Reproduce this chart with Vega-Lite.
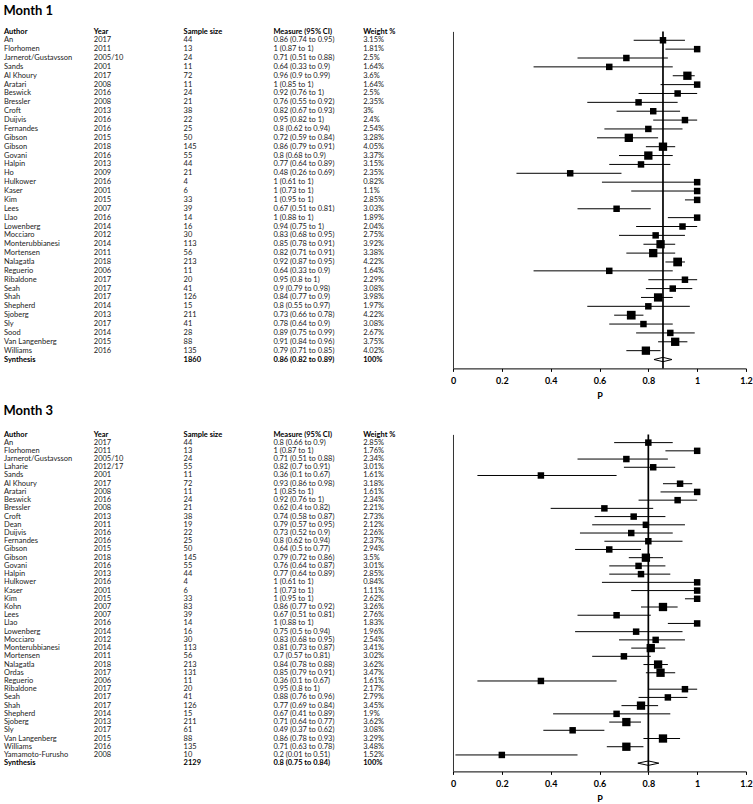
{
  "$schema": "https://vega.github.io/schema/vega-lite/v6.json",
  "background": "white",
  "padding": {"left": 3, "top": 4.4, "right": 0, "bottom": 0},
  "config": {"view": {"stroke": null}, "font": "Lato"},
  "datasets": {
    "m1": [
      {"Author": "An", "Year": "2017", "Sample size": "44", "Measure (95% CI)": "0.86 (0.74 to 0.95)", "Weight %": "3.15%", "p": 0.86, "lo": 0.74, "hi": 0.95, "w": 3.15},
      {"Author": "Florhomen", "Year": "2011", "Sample size": "13", "Measure (95% CI)": "1 (0.87 to 1)", "Weight %": "1.81%", "p": 1, "lo": 0.87, "hi": 1, "w": 1.81},
      {"Author": "Jarnerot/Gustavsson", "Year": "2005/10", "Sample size": "24", "Measure (95% CI)": "0.71 (0.51 to 0.88)", "Weight %": "2.5%", "p": 0.71, "lo": 0.51, "hi": 0.88, "w": 2.5},
      {"Author": "Sands", "Year": "2001", "Sample size": "11", "Measure (95% CI)": "0.64 (0.33 to 0.9)", "Weight %": "1.64%", "p": 0.64, "lo": 0.33, "hi": 0.9, "w": 1.64},
      {"Author": "Al Khoury", "Year": "2017", "Sample size": "72", "Measure (95% CI)": "0.96 (0.9 to 0.99)", "Weight %": "3.6%", "p": 0.96, "lo": 0.9, "hi": 0.99, "w": 3.6},
      {"Author": "Aratari", "Year": "2008", "Sample size": "11", "Measure (95% CI)": "1 (0.85 to 1)", "Weight %": "1.64%", "p": 1, "lo": 0.85, "hi": 1, "w": 1.64},
      {"Author": "Beswick", "Year": "2016", "Sample size": "24", "Measure (95% CI)": "0.92 (0.76 to 1)", "Weight %": "2.5%", "p": 0.92, "lo": 0.76, "hi": 1, "w": 2.5},
      {"Author": "Bressler", "Year": "2008", "Sample size": "21", "Measure (95% CI)": "0.76 (0.55 to 0.92)", "Weight %": "2.35%", "p": 0.76, "lo": 0.55, "hi": 0.92, "w": 2.35},
      {"Author": "Croft", "Year": "2013", "Sample size": "38", "Measure (95% CI)": "0.82 (0.67 to 0.93)", "Weight %": "3%", "p": 0.82, "lo": 0.67, "hi": 0.93, "w": 3},
      {"Author": "Duijvis", "Year": "2016", "Sample size": "22", "Measure (95% CI)": "0.95 (0.82 to 1)", "Weight %": "2.4%", "p": 0.95, "lo": 0.82, "hi": 1, "w": 2.4},
      {"Author": "Fernandes", "Year": "2016", "Sample size": "25", "Measure (95% CI)": "0.8 (0.62 to 0.94)", "Weight %": "2.54%", "p": 0.8, "lo": 0.62, "hi": 0.94, "w": 2.54},
      {"Author": "Gibson", "Year": "2015", "Sample size": "50", "Measure (95% CI)": "0.72 (0.59 to 0.84)", "Weight %": "3.28%", "p": 0.72, "lo": 0.59, "hi": 0.84, "w": 3.28},
      {"Author": "Gibson", "Year": "2018", "Sample size": "145", "Measure (95% CI)": "0.86 (0.79 to 0.91)", "Weight %": "4.05%", "p": 0.86, "lo": 0.79, "hi": 0.91, "w": 4.05},
      {"Author": "Govani", "Year": "2016", "Sample size": "55", "Measure (95% CI)": "0.8 (0.68 to 0.9)", "Weight %": "3.37%", "p": 0.8, "lo": 0.68, "hi": 0.9, "w": 3.37},
      {"Author": "Halpin", "Year": "2013", "Sample size": "44", "Measure (95% CI)": "0.77 (0.64 to 0.89)", "Weight %": "3.15%", "p": 0.77, "lo": 0.64, "hi": 0.89, "w": 3.15},
      {"Author": "Ho", "Year": "2009", "Sample size": "21", "Measure (95% CI)": "0.48 (0.26 to 0.69)", "Weight %": "2.35%", "p": 0.48, "lo": 0.26, "hi": 0.69, "w": 2.35},
      {"Author": "Hulkower", "Year": "2016", "Sample size": "4", "Measure (95% CI)": "1 (0.61 to 1)", "Weight %": "0.82%", "p": 1, "lo": 0.61, "hi": 1, "w": 0.82},
      {"Author": "Kaser", "Year": "2001", "Sample size": "6", "Measure (95% CI)": "1 (0.73 to 1)", "Weight %": "1.1%", "p": 1, "lo": 0.73, "hi": 1, "w": 1.1},
      {"Author": "Kim", "Year": "2015", "Sample size": "33", "Measure (95% CI)": "1 (0.95 to 1)", "Weight %": "2.85%", "p": 1, "lo": 0.95, "hi": 1, "w": 2.85},
      {"Author": "Lees", "Year": "2007", "Sample size": "39", "Measure (95% CI)": "0.67 (0.51 to 0.81)", "Weight %": "3.03%", "p": 0.67, "lo": 0.51, "hi": 0.81, "w": 3.03},
      {"Author": "Llao", "Year": "2016", "Sample size": "14", "Measure (95% CI)": "1 (0.88 to 1)", "Weight %": "1.89%", "p": 1, "lo": 0.88, "hi": 1, "w": 1.89},
      {"Author": "Lowenberg", "Year": "2014", "Sample size": "16", "Measure (95% CI)": "0.94 (0.75 to 1)", "Weight %": "2.04%", "p": 0.94, "lo": 0.75, "hi": 1, "w": 2.04},
      {"Author": "Mocciaro", "Year": "2012", "Sample size": "30", "Measure (95% CI)": "0.83 (0.68 to 0.95)", "Weight %": "2.75%", "p": 0.83, "lo": 0.68, "hi": 0.95, "w": 2.75},
      {"Author": "Monterubbianesi", "Year": "2014", "Sample size": "113", "Measure (95% CI)": "0.85 (0.78 to 0.91)", "Weight %": "3.92%", "p": 0.85, "lo": 0.78, "hi": 0.91, "w": 3.92},
      {"Author": "Mortensen", "Year": "2011", "Sample size": "56", "Measure (95% CI)": "0.82 (0.71 to 0.91)", "Weight %": "3.38%", "p": 0.82, "lo": 0.71, "hi": 0.91, "w": 3.38},
      {"Author": "Nalagatla", "Year": "2018", "Sample size": "213", "Measure (95% CI)": "0.92 (0.87 to 0.95)", "Weight %": "4.22%", "p": 0.92, "lo": 0.87, "hi": 0.95, "w": 4.22},
      {"Author": "Reguerio", "Year": "2006", "Sample size": "11", "Measure (95% CI)": "0.64 (0.33 to 0.9)", "Weight %": "1.64%", "p": 0.64, "lo": 0.33, "hi": 0.9, "w": 1.64},
      {"Author": "Ribaldone", "Year": "2017", "Sample size": "20", "Measure (95% CI)": "0.95 (0.8 to 1)", "Weight %": "2.29%", "p": 0.95, "lo": 0.8, "hi": 1, "w": 2.29},
      {"Author": "Seah", "Year": "2017", "Sample size": "41", "Measure (95% CI)": "0.9 (0.79 to 0.98)", "Weight %": "3.08%", "p": 0.9, "lo": 0.79, "hi": 0.98, "w": 3.08},
      {"Author": "Shah", "Year": "2017", "Sample size": "126", "Measure (95% CI)": "0.84 (0.77 to 0.9)", "Weight %": "3.98%", "p": 0.84, "lo": 0.77, "hi": 0.9, "w": 3.98},
      {"Author": "Shepherd", "Year": "2014", "Sample size": "15", "Measure (95% CI)": "0.8 (0.55 to 0.97)", "Weight %": "1.97%", "p": 0.8, "lo": 0.55, "hi": 0.97, "w": 1.97},
      {"Author": "Sjoberg", "Year": "2013", "Sample size": "211", "Measure (95% CI)": "0.73 (0.66 to 0.78)", "Weight %": "4.22%", "p": 0.73, "lo": 0.66, "hi": 0.78, "w": 4.22},
      {"Author": "Sly", "Year": "2017", "Sample size": "41", "Measure (95% CI)": "0.78 (0.64 to 0.9)", "Weight %": "3.08%", "p": 0.78, "lo": 0.64, "hi": 0.9, "w": 3.08},
      {"Author": "Sood", "Year": "2014", "Sample size": "28", "Measure (95% CI)": "0.89 (0.75 to 0.99)", "Weight %": "2.67%", "p": 0.89, "lo": 0.75, "hi": 0.99, "w": 2.67},
      {"Author": "Van Langenberg", "Year": "2015", "Sample size": "88", "Measure (95% CI)": "0.91 (0.84 to 0.96)", "Weight %": "3.75%", "p": 0.91, "lo": 0.84, "hi": 0.96, "w": 3.75},
      {"Author": "Williams", "Year": "2016", "Sample size": "135", "Measure (95% CI)": "0.79 (0.71 to 0.85)", "Weight %": "4.02%", "p": 0.79, "lo": 0.71, "hi": 0.85, "w": 4.02},
      {"Author": "Synthesis", "Year": "", "Sample size": "1860", "Measure (95% CI)": "0.86 (0.82 to 0.89)", "Weight %": "100%", "p": 0.86, "lo": 0.82, "hi": 0.89, "w": 100}
    ],
    "m3": [
      {"Author": "An", "Year": "2017", "Sample size": "44", "Measure (95% CI)": "0.8 (0.66 to 0.9)", "Weight %": "2.85%", "p": 0.8, "lo": 0.66, "hi": 0.9, "w": 2.85},
      {"Author": "Florhomen", "Year": "2011", "Sample size": "13", "Measure (95% CI)": "1 (0.87 to 1)", "Weight %": "1.76%", "p": 1, "lo": 0.87, "hi": 1, "w": 1.76},
      {"Author": "Jarnerot/Gustavsson", "Year": "2005/10", "Sample size": "24", "Measure (95% CI)": "0.71 (0.51 to 0.88)", "Weight %": "2.34%", "p": 0.71, "lo": 0.51, "hi": 0.88, "w": 2.34},
      {"Author": "Laharie", "Year": "2012/17", "Sample size": "55", "Measure (95% CI)": "0.82 (0.7 to 0.91)", "Weight %": "3.01%", "p": 0.82, "lo": 0.7, "hi": 0.91, "w": 3.01},
      {"Author": "Sands", "Year": "2001", "Sample size": "11", "Measure (95% CI)": "0.36 (0.1 to 0.67)", "Weight %": "1.61%", "p": 0.36, "lo": 0.1, "hi": 0.67, "w": 1.61},
      {"Author": "Al Khoury", "Year": "2017", "Sample size": "72", "Measure (95% CI)": "0.93 (0.86 to 0.98)", "Weight %": "3.18%", "p": 0.93, "lo": 0.86, "hi": 0.98, "w": 3.18},
      {"Author": "Aratari", "Year": "2008", "Sample size": "11", "Measure (95% CI)": "1 (0.85 to 1)", "Weight %": "1.61%", "p": 1, "lo": 0.85, "hi": 1, "w": 1.61},
      {"Author": "Beswick", "Year": "2016", "Sample size": "24", "Measure (95% CI)": "0.92 (0.76 to 1)", "Weight %": "2.34%", "p": 0.92, "lo": 0.76, "hi": 1, "w": 2.34},
      {"Author": "Bressler", "Year": "2008", "Sample size": "21", "Measure (95% CI)": "0.62 (0.4 to 0.82)", "Weight %": "2.21%", "p": 0.62, "lo": 0.4, "hi": 0.82, "w": 2.21},
      {"Author": "Croft", "Year": "2013", "Sample size": "38", "Measure (95% CI)": "0.74 (0.58 to 0.87)", "Weight %": "2.73%", "p": 0.74, "lo": 0.58, "hi": 0.87, "w": 2.73},
      {"Author": "Dean", "Year": "2011", "Sample size": "19", "Measure (95% CI)": "0.79 (0.57 to 0.95)", "Weight %": "2.12%", "p": 0.79, "lo": 0.57, "hi": 0.95, "w": 2.12},
      {"Author": "Duijvis", "Year": "2016", "Sample size": "22", "Measure (95% CI)": "0.73 (0.52 to 0.9)", "Weight %": "2.26%", "p": 0.73, "lo": 0.52, "hi": 0.9, "w": 2.26},
      {"Author": "Fernandes", "Year": "2016", "Sample size": "25", "Measure (95% CI)": "0.8 (0.62 to 0.94)", "Weight %": "2.37%", "p": 0.8, "lo": 0.62, "hi": 0.94, "w": 2.37},
      {"Author": "Gibson", "Year": "2015", "Sample size": "50", "Measure (95% CI)": "0.64 (0.5 to 0.77)", "Weight %": "2.94%", "p": 0.64, "lo": 0.5, "hi": 0.77, "w": 2.94},
      {"Author": "Gibson", "Year": "2018", "Sample size": "145", "Measure (95% CI)": "0.79 (0.72 to 0.86)", "Weight %": "3.5%", "p": 0.79, "lo": 0.72, "hi": 0.86, "w": 3.5},
      {"Author": "Govani", "Year": "2016", "Sample size": "55", "Measure (95% CI)": "0.76 (0.64 to 0.87)", "Weight %": "3.01%", "p": 0.76, "lo": 0.64, "hi": 0.87, "w": 3.01},
      {"Author": "Halpin", "Year": "2013", "Sample size": "44", "Measure (95% CI)": "0.77 (0.64 to 0.89)", "Weight %": "2.85%", "p": 0.77, "lo": 0.64, "hi": 0.89, "w": 2.85},
      {"Author": "Hulkower", "Year": "2016", "Sample size": "4", "Measure (95% CI)": "1 (0.61 to 1)", "Weight %": "0.84%", "p": 1, "lo": 0.61, "hi": 1, "w": 0.84},
      {"Author": "Kaser", "Year": "2001", "Sample size": "6", "Measure (95% CI)": "1 (0.73 to 1)", "Weight %": "1.11%", "p": 1, "lo": 0.73, "hi": 1, "w": 1.11},
      {"Author": "Kim", "Year": "2015", "Sample size": "33", "Measure (95% CI)": "1 (0.95 to 1)", "Weight %": "2.62%", "p": 1, "lo": 0.95, "hi": 1, "w": 2.62},
      {"Author": "Kohn", "Year": "2007", "Sample size": "83", "Measure (95% CI)": "0.86 (0.77 to 0.92)", "Weight %": "3.26%", "p": 0.86, "lo": 0.77, "hi": 0.92, "w": 3.26},
      {"Author": "Lees", "Year": "2007", "Sample size": "39", "Measure (95% CI)": "0.67 (0.51 to 0.81)", "Weight %": "2.76%", "p": 0.67, "lo": 0.51, "hi": 0.81, "w": 2.76},
      {"Author": "Llao", "Year": "2016", "Sample size": "14", "Measure (95% CI)": "1 (0.88 to 1)", "Weight %": "1.83%", "p": 1, "lo": 0.88, "hi": 1, "w": 1.83},
      {"Author": "Lowenberg", "Year": "2014", "Sample size": "16", "Measure (95% CI)": "0.75 (0.5 to 0.94)", "Weight %": "1.96%", "p": 0.75, "lo": 0.5, "hi": 0.94, "w": 1.96},
      {"Author": "Mocciaro", "Year": "2012", "Sample size": "30", "Measure (95% CI)": "0.83 (0.68 to 0.95)", "Weight %": "2.54%", "p": 0.83, "lo": 0.68, "hi": 0.95, "w": 2.54},
      {"Author": "Monterubbianesi", "Year": "2014", "Sample size": "113", "Measure (95% CI)": "0.81 (0.73 to 0.87)", "Weight %": "3.41%", "p": 0.81, "lo": 0.73, "hi": 0.87, "w": 3.41},
      {"Author": "Mortensen", "Year": "2011", "Sample size": "56", "Measure (95% CI)": "0.7 (0.57 to 0.81)", "Weight %": "3.02%", "p": 0.7, "lo": 0.57, "hi": 0.81, "w": 3.02},
      {"Author": "Nalagatla", "Year": "2018", "Sample size": "213", "Measure (95% CI)": "0.84 (0.78 to 0.88)", "Weight %": "3.62%", "p": 0.84, "lo": 0.78, "hi": 0.88, "w": 3.62},
      {"Author": "Ordas", "Year": "2017", "Sample size": "131", "Measure (95% CI)": "0.85 (0.79 to 0.91)", "Weight %": "3.47%", "p": 0.85, "lo": 0.79, "hi": 0.91, "w": 3.47},
      {"Author": "Reguerio", "Year": "2006", "Sample size": "11", "Measure (95% CI)": "0.36 (0.1 to 0.67)", "Weight %": "1.61%", "p": 0.36, "lo": 0.1, "hi": 0.67, "w": 1.61},
      {"Author": "Ribaldone", "Year": "2017", "Sample size": "20", "Measure (95% CI)": "0.95 (0.8 to 1)", "Weight %": "2.17%", "p": 0.95, "lo": 0.8, "hi": 1, "w": 2.17},
      {"Author": "Seah", "Year": "2017", "Sample size": "41", "Measure (95% CI)": "0.88 (0.76 to 0.96)", "Weight %": "2.79%", "p": 0.88, "lo": 0.76, "hi": 0.96, "w": 2.79},
      {"Author": "Shah", "Year": "2017", "Sample size": "126", "Measure (95% CI)": "0.77 (0.69 to 0.84)", "Weight %": "3.45%", "p": 0.77, "lo": 0.69, "hi": 0.84, "w": 3.45},
      {"Author": "Shepherd", "Year": "2014", "Sample size": "15", "Measure (95% CI)": "0.67 (0.41 to 0.89)", "Weight %": "1.9%", "p": 0.67, "lo": 0.41, "hi": 0.89, "w": 1.9},
      {"Author": "Sjoberg", "Year": "2013", "Sample size": "211", "Measure (95% CI)": "0.71 (0.64 to 0.77)", "Weight %": "3.62%", "p": 0.71, "lo": 0.64, "hi": 0.77, "w": 3.62},
      {"Author": "Sly", "Year": "2017", "Sample size": "61", "Measure (95% CI)": "0.49 (0.37 to 0.62)", "Weight %": "3.08%", "p": 0.49, "lo": 0.37, "hi": 0.62, "w": 3.08},
      {"Author": "Van Langenberg", "Year": "2015", "Sample size": "88", "Measure (95% CI)": "0.86 (0.78 to 0.93)", "Weight %": "3.29%", "p": 0.86, "lo": 0.78, "hi": 0.93, "w": 3.29},
      {"Author": "Williams", "Year": "2016", "Sample size": "135", "Measure (95% CI)": "0.71 (0.63 to 0.78)", "Weight %": "3.48%", "p": 0.71, "lo": 0.63, "hi": 0.78, "w": 3.48},
      {"Author": "Yamamoto-Furusho", "Year": "2008", "Sample size": "10", "Measure (95% CI)": "0.2 (0.01 to 0.51)", "Weight %": "1.52%", "p": 0.2, "lo": 0.01, "hi": 0.51, "w": 1.52},
      {"Author": "Synthesis", "Year": "", "Sample size": "2129", "Measure (95% CI)": "0.8 (0.75 to 0.84)", "Weight %": "100%", "p": 0.8, "lo": 0.75, "hi": 0.84, "w": 100}
    ]
  },
  "spacing": 5,
  "vconcat": [
    {
      "title": {"text": "Month 1", "anchor": "start", "fontSize": 13, "font": "Lato", "fontWeight": "bold", "color": "#000", "offset": 9.6},
      "spacing": 0,
      "bounds": "flush",
      "hconcat": [
        {
          "data": {"name": "m1"},
          "width": 449,
          "height": 337,
          "transform": [
            {"window": [{"op": "row_number", "as": "idx"}]},
            {"fold": ["Author", "Year", "Sample size", "Measure (95% CI)", "Weight %"], "as": ["column", "cell"]}
          ],
          "encoding": {
            "x": {"field": "column", "type": "nominal", "sort": ["Author", "Year", "Sample size", "Measure (95% CI)", "Weight %"], "bandPosition": 0,
              "scale": {"type": "band", "paddingInner": 0, "paddingOuter": 0},
              "axis": {"orient": "top", "title": null, "domain": false, "ticks": false, "tickSize": 0, "labelAngle": 0, "labelAlign": "left", "labelBaseline": "middle", "labelPadding": 0, "labelOffset": -44.9, "labelFontWeight": "bold", "labelFontSize": 7.5, "labelFont": "Lato", "labelColor": "#000", "grid": false}},
            "y": {"field": "idx", "type": "ordinal", "scale": {"type": "point", "padding": 1}, "axis": null},
            "text": {"field": "cell", "type": "nominal"}
          },
          "layer": [
            {"transform": [{"filter": "datum.Author !== 'Synthesis'"}], "mark": {"type": "text", "align": "left", "baseline": "middle", "fontSize": 7.5, "font": "Lato", "color": "#222"}},
            {"transform": [{"filter": "datum.Author === 'Synthesis'"}], "mark": {"type": "text", "align": "left", "baseline": "middle", "fontSize": 7.5, "font": "Lato", "fontWeight": "bold", "color": "#000"}}
          ]
        },
        {
          "data": {"name": "m1"},
          "width": 293,
          "height": 337,
          "transform": [{"window": [{"op": "row_number", "as": "idx"}]}],
          "layer": [
            {
              "transform": [{"filter": "datum.Author !== 'Synthesis'"}],
              "mark": {"type": "rule", "color": "#000", "strokeWidth": 1},
              "encoding": {
                "x": {"field": "lo", "type": "quantitative", "scale": {"domain": [0, 1.2], "nice": false},
                  "axis": {"values": [0, 0.2, 0.4, 0.6, 0.8, 1, 1.2], "format": "~g", "grid": false, "title": "P", "titleFont": "Lato", "titleFontWeight": "bold", "titleFontSize": 9, "titleColor": "#000", "titlePadding": 6, "labelFont": "Lato", "labelFontWeight": "bold", "labelFontSize": 9, "labelColor": "#000", "labelFlush": false, "labelPadding": 5, "domainColor": "#000", "tickColor": "#000", "tickSize": 3}},
                "x2": {"field": "hi"},
                "y": {"field": "idx", "type": "ordinal", "scale": {"type": "point", "padding": 1},
                  "axis": {"title": null, "labels": false, "ticks": false, "domain": true, "domainColor": "#333", "grid": false, "minExtent": 0}}
              }
            },
            {
              "transform": [{"filter": "datum.Author === 'Synthesis'"}],
              "mark": {"type": "point", "shape": "M-1,0L0,-0.24L1,0L0,0.24Z", "filled": true, "fill": "#fff", "stroke": "#000", "strokeWidth": 1, "opacity": 1, "size": 324},
              "encoding": {
                "x": {"field": "p", "type": "quantitative"},
                "y": {"field": "idx", "type": "ordinal"}
              }
            },
            {
              "transform": [{"filter": "datum.Author === 'Synthesis'"}],
              "mark": {"type": "rule", "color": "#000", "strokeWidth": 1.7},
              "encoding": {"x": {"field": "p", "type": "quantitative"}}
            },
            {
              "transform": [{"filter": "datum.Author !== 'Synthesis'"}],
              "mark": {"type": "point", "shape": "square", "filled": true, "color": "#000", "opacity": 1, "strokeWidth": 0},
              "encoding": {
                "x": {"field": "p", "type": "quantitative"},
                "y": {"field": "idx", "type": "ordinal"},
                "size": {"field": "w", "type": "quantitative", "scale": {"type": "threshold", "domain": [3.5, 3.7, 3.85, 4.1], "range": [42, 69, 76, 85, 104]}, "legend": null}
              }
            }
          ]
        }
      ]
    },
    {
      "title": {"text": "Month 3", "anchor": "start", "fontSize": 13, "font": "Lato", "fontWeight": "bold", "color": "#000", "offset": 12},
      "spacing": 0,
      "bounds": "flush",
      "hconcat": [
        {
          "data": {"name": "m3"},
          "width": 449,
          "height": 337,
          "transform": [
            {"window": [{"op": "row_number", "as": "idx"}]},
            {"fold": ["Author", "Year", "Sample size", "Measure (95% CI)", "Weight %"], "as": ["column", "cell"]}
          ],
          "encoding": {
            "x": {"field": "column", "type": "nominal", "sort": ["Author", "Year", "Sample size", "Measure (95% CI)", "Weight %"], "bandPosition": 0,
              "scale": {"type": "band", "paddingInner": 0, "paddingOuter": 0},
              "axis": {"orient": "top", "title": null, "domain": false, "ticks": false, "tickSize": 0, "labelAngle": 0, "labelAlign": "left", "labelBaseline": "middle", "labelPadding": 0, "labelOffset": -44.9, "labelFontWeight": "bold", "labelFontSize": 7.5, "labelFont": "Lato", "labelColor": "#000", "grid": false}},
            "y": {"field": "idx", "type": "ordinal", "scale": {"type": "point", "padding": 1}, "axis": null},
            "text": {"field": "cell", "type": "nominal"}
          },
          "layer": [
            {"transform": [{"filter": "datum.Author !== 'Synthesis'"}], "mark": {"type": "text", "align": "left", "baseline": "middle", "fontSize": 7.5, "font": "Lato", "color": "#222"}},
            {"transform": [{"filter": "datum.Author === 'Synthesis'"}], "mark": {"type": "text", "align": "left", "baseline": "middle", "fontSize": 7.5, "font": "Lato", "fontWeight": "bold", "color": "#000"}}
          ]
        },
        {
          "data": {"name": "m3"},
          "width": 293,
          "height": 337,
          "transform": [{"window": [{"op": "row_number", "as": "idx"}]}],
          "layer": [
            {
              "transform": [{"filter": "datum.Author !== 'Synthesis'"}],
              "mark": {"type": "rule", "color": "#000", "strokeWidth": 1},
              "encoding": {
                "x": {"field": "lo", "type": "quantitative", "scale": {"domain": [0, 1.2], "nice": false},
                  "axis": {"values": [0, 0.2, 0.4, 0.6, 0.8, 1, 1.2], "format": "~g", "grid": false, "title": "P", "titleFont": "Lato", "titleFontWeight": "bold", "titleFontSize": 9, "titleColor": "#000", "titlePadding": 6, "labelFont": "Lato", "labelFontWeight": "bold", "labelFontSize": 9, "labelColor": "#000", "labelFlush": false, "labelPadding": 5, "domainColor": "#000", "tickColor": "#000", "tickSize": 3}},
                "x2": {"field": "hi"},
                "y": {"field": "idx", "type": "ordinal", "scale": {"type": "point", "padding": 1},
                  "axis": {"title": null, "labels": false, "ticks": false, "domain": true, "domainColor": "#333", "grid": false, "minExtent": 0}}
              }
            },
            {
              "transform": [{"filter": "datum.Author === 'Synthesis'"}],
              "mark": {"type": "point", "shape": "M-1,0L0,-0.21L1,0L0,0.21Z", "filled": true, "fill": "#fff", "stroke": "#000", "strokeWidth": 1, "opacity": 1, "size": 441},
              "encoding": {
                "x": {"field": "p", "type": "quantitative"},
                "y": {"field": "idx", "type": "ordinal"}
              }
            },
            {
              "transform": [{"filter": "datum.Author === 'Synthesis'"}],
              "mark": {"type": "rule", "color": "#000", "strokeWidth": 1.7},
              "encoding": {"x": {"field": "p", "type": "quantitative"}}
            },
            {
              "transform": [{"filter": "datum.Author !== 'Synthesis'"}],
              "mark": {"type": "point", "shape": "square", "filled": true, "color": "#000", "opacity": 1, "strokeWidth": 0},
              "encoding": {
                "x": {"field": "p", "type": "quantitative"},
                "y": {"field": "idx", "type": "ordinal"},
                "size": {"field": "w", "type": "quantitative", "scale": {"type": "threshold", "domain": [3.2], "range": [42, 69]}, "legend": null}
              }
            }
          ]
        }
      ]
    }
  ]
}
